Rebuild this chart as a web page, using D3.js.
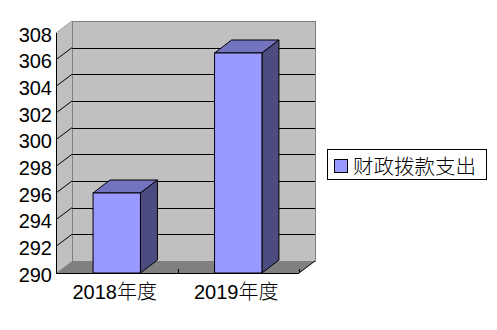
<!DOCTYPE html>
<html>
<head>
<meta charset="utf-8">
<script src="https://cdn.jsdelivr.net/npm/d3@7"></script>
<style>
  body { margin: 0; background: #fff; }
  text { font-family: "Liberation Sans", "Noto Sans CJK SC", sans-serif; font-weight: 300; fill: #000; }
</style>
</head>
<body>
<div id="chart"></div>
<script>
// chart data
const categories = ['2018年度', '2019年度'];
const spending = [296, 306.5];
const seriesName = '财政拨款支出';
const yTicks = [290, 292, 294, 296, 298, 300, 302, 304, 306, 308];

const width = 497, height = 330;

// front plane of the 3d box and its depth offset
const plotLeft = 56, plotRight = 299, plotTop = 33, plotBottom = 273;
const wallDx = 16, wallDy = -12;
const barDx = 17, barDy = -13;

const svg = d3.select('#chart').append('svg')
  .attr('width', width).attr('height', height);

const y = d3.scaleLinear().domain([290, 308]).range([plotBottom, plotTop]);
const x = d3.scaleBand().domain(categories).range([plotLeft, plotRight])
  .paddingInner(0.61).paddingOuter(0.305);

// walls
const walls = svg.append('g');

// left side wall
walls.append('path')
  .attr('d', `M${plotLeft},${plotTop} L${plotLeft + wallDx},${plotTop + wallDy} L${plotLeft + wallDx},${plotBottom + wallDy} L${plotLeft},${plotBottom} Z`)
  .attr('fill', '#c0c0c0');

// back wall
walls.append('rect')
  .attr('x', plotLeft + wallDx + 0.5).attr('y', plotTop + wallDy + 0.5)
  .attr('width', plotRight - plotLeft).attr('height', plotBottom - plotTop)
  .attr('fill', '#c0c0c0')
  .attr('stroke', '#808080').attr('stroke-width', 1)
  .attr('shape-rendering', 'crispEdges');

// floor
walls.append('path')
  .attr('d', `M${plotLeft},${plotBottom} L${plotLeft + wallDx},${plotBottom + wallDy} L${plotRight + wallDx},${plotBottom + wallDy} L${plotRight},${plotBottom} Z`)
  .attr('fill', '#808080');

// top edge of side wall
walls.append('line')
  .attr('x1', plotLeft).attr('y1', plotTop)
  .attr('x2', plotLeft + wallDx).attr('y2', plotTop + wallDy)
  .attr('stroke', '#a0a0a0');

// gridlines on back wall + side wall
const grid = yTicks.filter(v => v > 290 && v < 308);
walls.selectAll('.grid').data(grid).enter().append('line')
  .attr('class', 'grid')
  .attr('x1', plotLeft + wallDx).attr('x2', plotRight + wallDx)
  .attr('y1', d => Math.round(y(d) + wallDy) + 0.5)
  .attr('y2', d => Math.round(y(d) + wallDy) + 0.5)
  .attr('stroke', '#000').attr('shape-rendering', 'crispEdges');

walls.selectAll('.side-grid').data(grid).enter().append('line')
  .attr('class', 'side-grid')
  .attr('x1', plotLeft).attr('y1', d => y(d))
  .attr('x2', plotLeft + wallDx).attr('y2', d => y(d) + wallDy)
  .attr('stroke', '#000');

// bars
const bars = svg.append('g').selectAll('g').data(spending).enter().append('g');
const bw = x.bandwidth();

bars.append('path')  // top face
  .attr('d', (d, i) => {
    const x0 = x(categories[i]), y0 = y(d);
    return `M${x0},${y0} L${x0 + barDx},${y0 + barDy} L${x0 + bw + barDx},${y0 + barDy} L${x0 + bw},${y0} Z`;
  })
  .attr('fill', '#7373bf').attr('stroke', '#000');

bars.append('path')  // side face
  .attr('d', (d, i) => {
    const x1 = x(categories[i]) + bw, y0 = y(d);
    return `M${x1},${y0} L${x1 + barDx},${y0 + barDy} L${x1 + barDx},${plotBottom + barDy} L${x1},${plotBottom} Z`;
  })
  .attr('fill', '#4c4c80').attr('stroke', '#000');

bars.append('rect')  // front face
  .attr('x', (d, i) => x(categories[i]))
  .attr('y', d => y(d))
  .attr('width', bw)
  .attr('height', d => plotBottom - y(d))
  .attr('fill', '#9999ff').attr('stroke', '#000');

// front axes
svg.append('line')
  .attr('x1', plotLeft + 0.5).attr('x2', plotLeft + 0.5)
  .attr('y1', plotTop).attr('y2', plotBottom)
  .attr('stroke', '#000').attr('shape-rendering', 'crispEdges');

svg.append('line')
  .attr('x1', plotLeft).attr('x2', plotRight)
  .attr('y1', plotBottom + 0.5).attr('y2', plotBottom + 0.5)
  .attr('stroke', '#000').attr('shape-rendering', 'crispEdges');

svg.append('line')
  .attr('x1', plotRight).attr('y1', plotBottom)
  .attr('x2', plotRight + wallDx).attr('y2', plotBottom + wallDy)
  .attr('stroke', '#000');

// category ticks (band edges)
const edges = [plotLeft].concat(categories.map(c => x(c) - x.step() * x.paddingInner() / 2 + x.step()));
svg.selectAll('.xtick').data(edges).enter().append('line')
  .attr('class', 'xtick')
  .attr('x1', d => Math.round(d) + 0.5).attr('x2', d => Math.round(d) + 0.5)
  .attr('y1', plotBottom - 4).attr('y2', plotBottom)
  .attr('stroke', '#000').attr('shape-rendering', 'crispEdges');

// y labels
svg.selectAll('.ylab').data(yTicks).enter().append('text')
  .attr('x', 52).attr('y', d => y(d) + 8.5)
  .attr('text-anchor', 'end')
  .attr('font-size', '20px')
  .text(d => d);

// x labels
svg.selectAll('.xlab').data(categories).enter().append('text')
  .attr('x', d => x(d) + bw / 2 - 2).attr('y', 298.5)
  .attr('text-anchor', 'middle')
  .attr('font-size', '20px')
  .text(d => d);

// legend
const legend = svg.append('g').attr('transform', 'translate(327,149)');
legend.append('rect')
  .attr('x', 0.5).attr('y', 0.5).attr('width', 159).attr('height', 30)
  .attr('fill', '#fff').attr('stroke', '#000')
  .attr('shape-rendering', 'crispEdges');
legend.append('rect')
  .attr('x', 7.5).attr('y', 10.5).attr('width', 13).attr('height', 13)
  .attr('fill', '#9999ff').attr('stroke', '#000')
  .attr('shape-rendering', 'crispEdges');
legend.append('text')
  .attr('x', 26).attr('y', 17.5)
  .attr('dominant-baseline', 'central')
  .attr('font-size', '20.5px')
  .text(seriesName);
</script>
</body>
</html>
